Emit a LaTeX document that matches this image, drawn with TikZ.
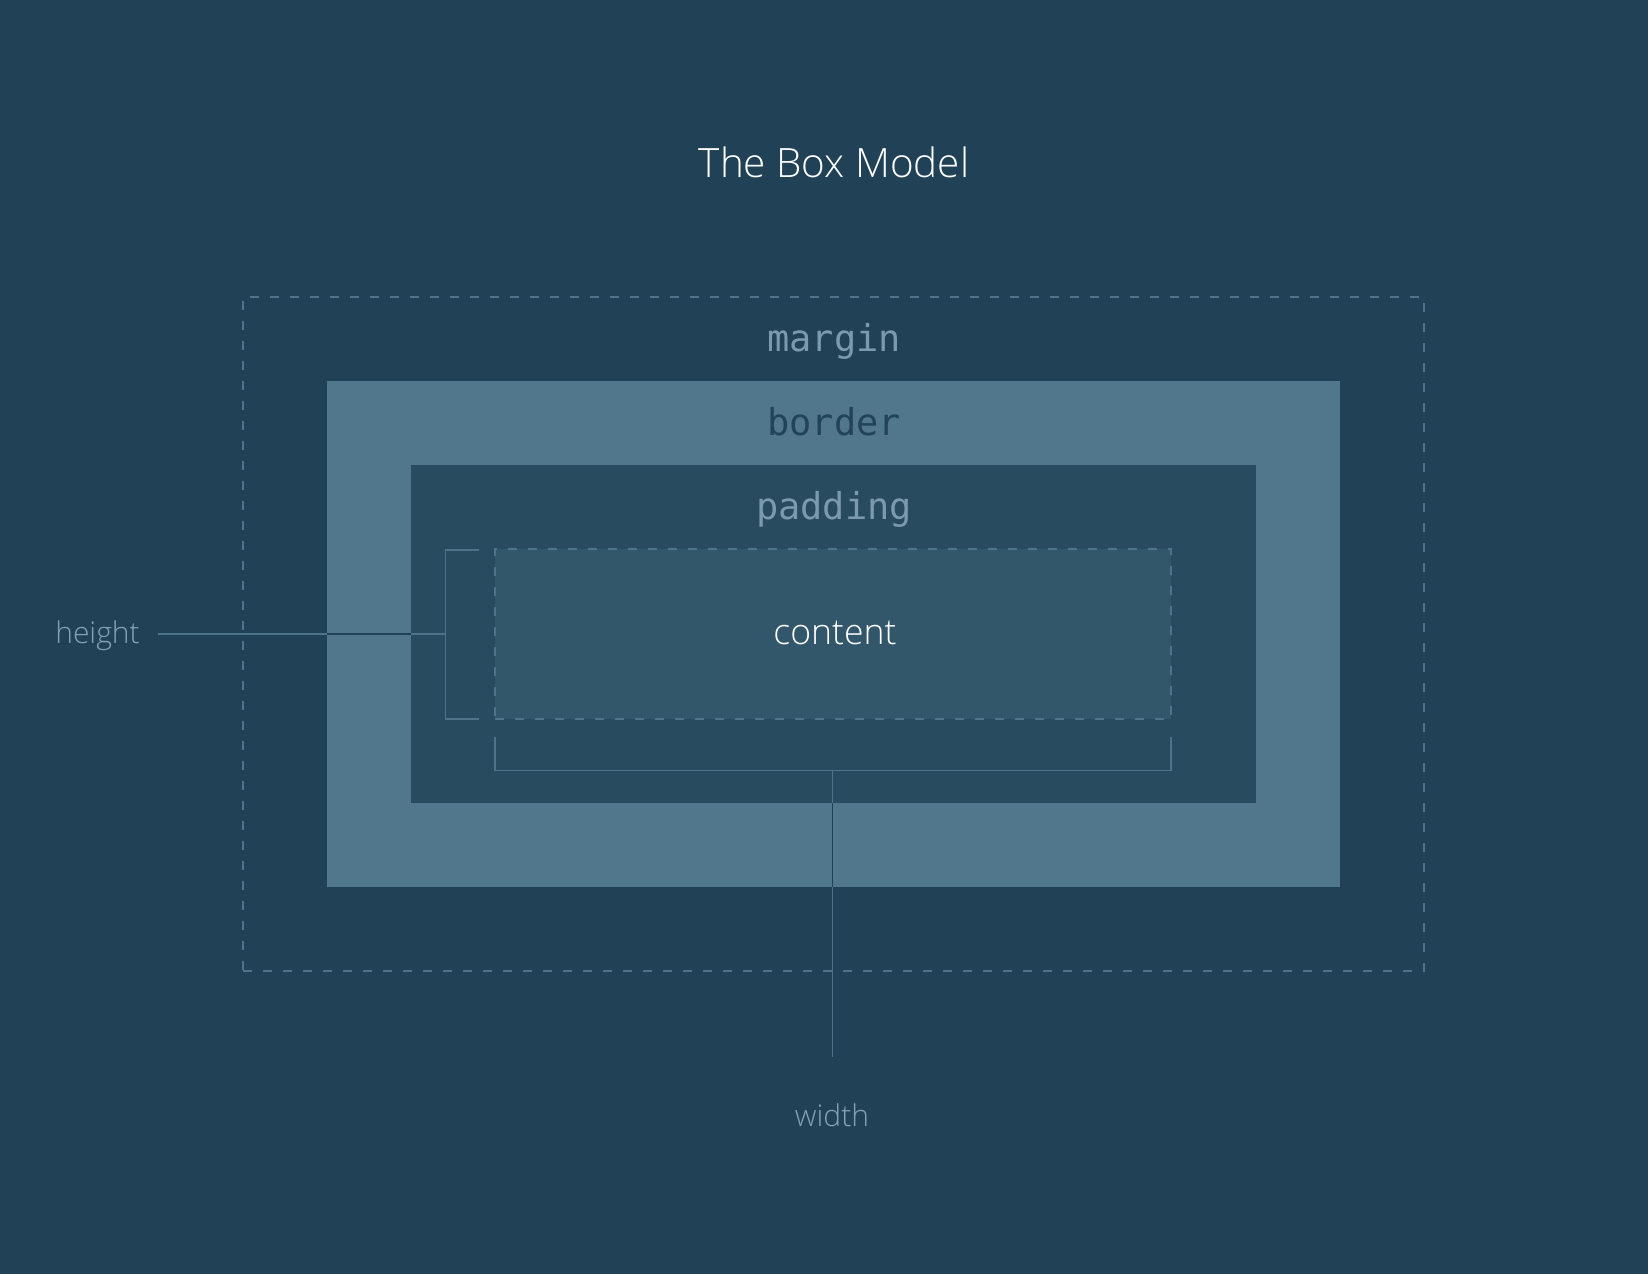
\documentclass[tikz,border=0pt]{standalone}
\usepackage{fontspec}
\setmainfont{Open Sans Light}
\setmonofont{DejaVu Sans Mono}
\usepackage{tikz}

\definecolor{bgcol}{HTML}{214156}
\definecolor{bordercol}{HTML}{50778C}
\definecolor{paddingcol}{HTML}{284B60}
\definecolor{contentcol}{HTML}{32566A}
\definecolor{linecol}{HTML}{4F7489}
\definecolor{labelcol}{HTML}{7C99AD}
\definecolor{dimcol}{HTML}{85A1B4}
\definecolor{darklabel}{HTML}{234359}

\begin{document}
\begin{tikzpicture}[x=0.5pt,y=-0.5pt,
    box/.style={rectangle, inner sep=0pt, outer sep=0pt},
    dashbox/.style={box, draw=linecol, line width=0.75pt, dash pattern=on 4.3pt off 5.7pt},
    layer/.style={font=\ttfamily\fontsize{18.5}{20}\selectfont, anchor=base},
    dim/.style={font=\fontsize{15}{17}\selectfont, text=dimcol, anchor=base},
    lead/.style={draw=linecol, line width=0.8pt},
    darklead/.style={draw=bgcol, line width=0.8pt}]
    \useasboundingbox[fill=bgcol] (0,0) rectangle (1648,1274);
    % title
    \node[anchor=base, text=white, font=\fontsize{20.2}{23}\selectfont] (title) at (834,177) {The Box Model};
    % nested boxes
    \node[dashbox, minimum width=590.5pt, minimum height=337pt] (margin) at (833.5,634) {};
    \node[box, fill=bordercol, minimum width=506.5pt, minimum height=253pt] (border) at (833.5,634) {};
    \node[box, fill=paddingcol, minimum width=422.5pt, minimum height=169pt] (padding) at (833.5,634) {};
    \node[dashbox, fill=contentcol, minimum width=338pt, minimum height=85pt] (content) at (833,634) {};
    \node[layer, text=labelcol] (marginlbl) at (834,351) {margin};
    \node[layer, text=darklabel] (borderlbl) at (834,435.5) {border};
    \node[layer, text=labelcol] (paddinglbl) at (834,519.5) {padding};
    \node[anchor=base, text=white, font=\fontsize{17.8}{20}\selectfont] (contentlbl) at (835,644) {content};
    % height
    \draw[lead] (479,549.7) -- (445.6,549.7) -- (445.6,719) -- (479,719);
    \node[dim] (height) at (97.5,643) {height};
    \coordinate (hs) at (158,634);
    \coordinate (hb) at (445.6,634);
    \draw[lead] (hs) -- (hb);
    \draw[darklead] (border.west |- hb) -- (padding.west |- hb);
    % width
    \draw[lead] (495,736.8) -- (495,770.4) -- (1171,770.4) -- (1171,736.8);
    \node[dim] (width) at (832,1126.5) {width};
    \coordinate (wb) at (832.5,770.4);
    \coordinate (we) at (832.5,1057);
    \draw[lead] (wb) -- (we);
    \draw[darklead] (wb |- padding.south) -- (wb |- border.south);
\end{tikzpicture}
\end{document}
